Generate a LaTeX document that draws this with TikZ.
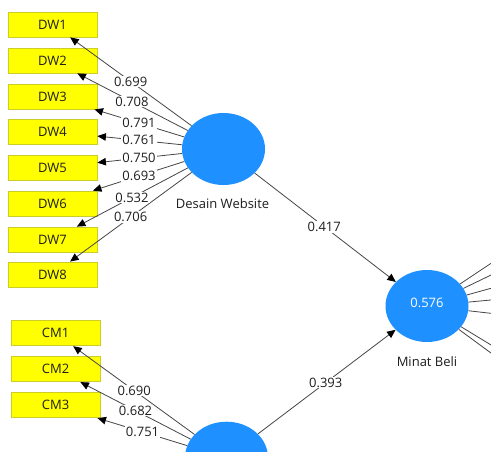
\documentclass[tikz,border=0pt]{standalone}
\usepackage{fontspec}
\setmainfont{Open Sans}
\usetikzlibrary{shapes.geometric,arrows.meta,calc}
\definecolor{boxfill}{RGB}{255,255,0}
\definecolor{boxline}{RGB}{205,205,40}
\definecolor{lvblue}{RGB}{30,144,255}
\definecolor{edgegray}{RGB}{70,70,70}
\definecolor{txt}{RGB}{30,30,30}
\tikzset{
  indbox/.style={rectangle,minimum width=89pt,minimum height=25pt,inner sep=0pt,fill=boxfill,draw=boxline,line width=0.8pt,text=txt,font=\fontsize{13}{13}\selectfont},
  lvcirc/.style={ellipse,minimum width=83pt,minimum height=72pt,inner sep=0pt,fill=lvblue,draw=none,text=white,font=\fontsize{13}{13}\selectfont},
  lvname/.style={text=txt,font=\fontsize{13}{13}\selectfont,inner sep=0pt},
  conn/.style={draw=edgegray,line width=0.8pt,-{Triangle[width=7.5pt,length=8.5pt,color=black]}},
  plain/.style={draw=edgegray,line width=0.8pt},
  lbl/.style={fill=white,inner sep=1pt,text=txt,font=\fontsize{13}{13}\selectfont}
}
\begin{document}
\begin{tikzpicture}[x=1pt,y=-1pt]
\useasboundingbox (0,0) rectangle (491,451);
\clip (0,0) rectangle (491,451);
\fill[white] (0,0) rectangle (491,451);
% indicator boxes
\node[indbox] (dw1) at (52.5,24.5) {DW1};
\node[indbox] (dw2) at (52.5,60.5) {DW2};
\node[indbox] (dw3) at (52.5,96.5) {DW3};
\node[indbox] (dw4) at (52.5,131.5) {DW4};
\node[indbox] (dw5) at (52.5,167.5) {DW5};
\node[indbox] (dw6) at (52.5,203.5) {DW6};
\node[indbox] (dw7) at (52.5,239.5) {DW7};
\node[indbox] (dw8) at (52.5,274.5) {DW8};
\node[indbox] (cm1) at (55.5,333.3) {CM1};
\node[indbox] (cm2) at (55.5,369.2) {CM2};
\node[indbox] (cm3) at (55.5,405.2) {CM3};
% latent variables
\node[lvcirc] (dws) at (223.5,149) {};
\node[lvname,anchor=center] (dwsname) at (222.5,204) {Desain Website};
\node[lvcirc] (mb) at (427,306) {};
\node[text=white,font=\fontsize{13}{13}\selectfont,inner sep=0pt] (mbval) at (427,302.5) {0.576};
\node[lvname,anchor=center] (mbname) at (427,361.7) {Minat Beli};
\node[lvcirc] (cmv) at (226.5,457.7) {};
% off-canvas indicator directions of Minat Beli
\coordinate (mo1) at (496,260);
\coordinate (mo2) at (496,272.6);
\coordinate (mo3) at (496,286.9);
\coordinate (mo4) at (496,299.5);
\coordinate (mo5) at (496,313.9);
\coordinate (mo6) at (496,348);
\coordinate (mo7) at (496,356.7);
\foreach \i in {1,...,7} {\draw[plain] (mb) -- (mo\i);}
% loadings Desain Website
\foreach \i in {1,...,8} {\draw[conn] (dws) -- (dw\i);}
\foreach \i/\f/\v in {1/0.543/0.699,2/0.535/0.708,3/0.494/0.791,4/0.494/0.761,5/0.494/0.750,6/0.494/0.693,7/0.535/0.532,8/0.543/0.706}
  {\path (dws.center) -- (dw\i.center) node[lbl,pos=\f] {\v};}
% loadings bottom construct
\foreach \i in {1,2,3} {\draw[conn] (cmv) -- (cm\i);}
\foreach \i/\f/\v in {1/0.540/0.690,2/0.532/0.682,3/0.491/0.751}
  {\path (cmv.center) -- (cm\i.center) node[lbl,pos=\f] {\v};}
% structural paths
\draw[conn] (dws) -- (mb);
\path (dws.center) -- (mb.center) node[lbl,pos=0.495] {0.417};
\draw[conn] (cmv) -- (mb);
\path (cmv.center) -- (mb.center) node[lbl,pos=0.495] {0.393};
\end{tikzpicture}
\end{document}
